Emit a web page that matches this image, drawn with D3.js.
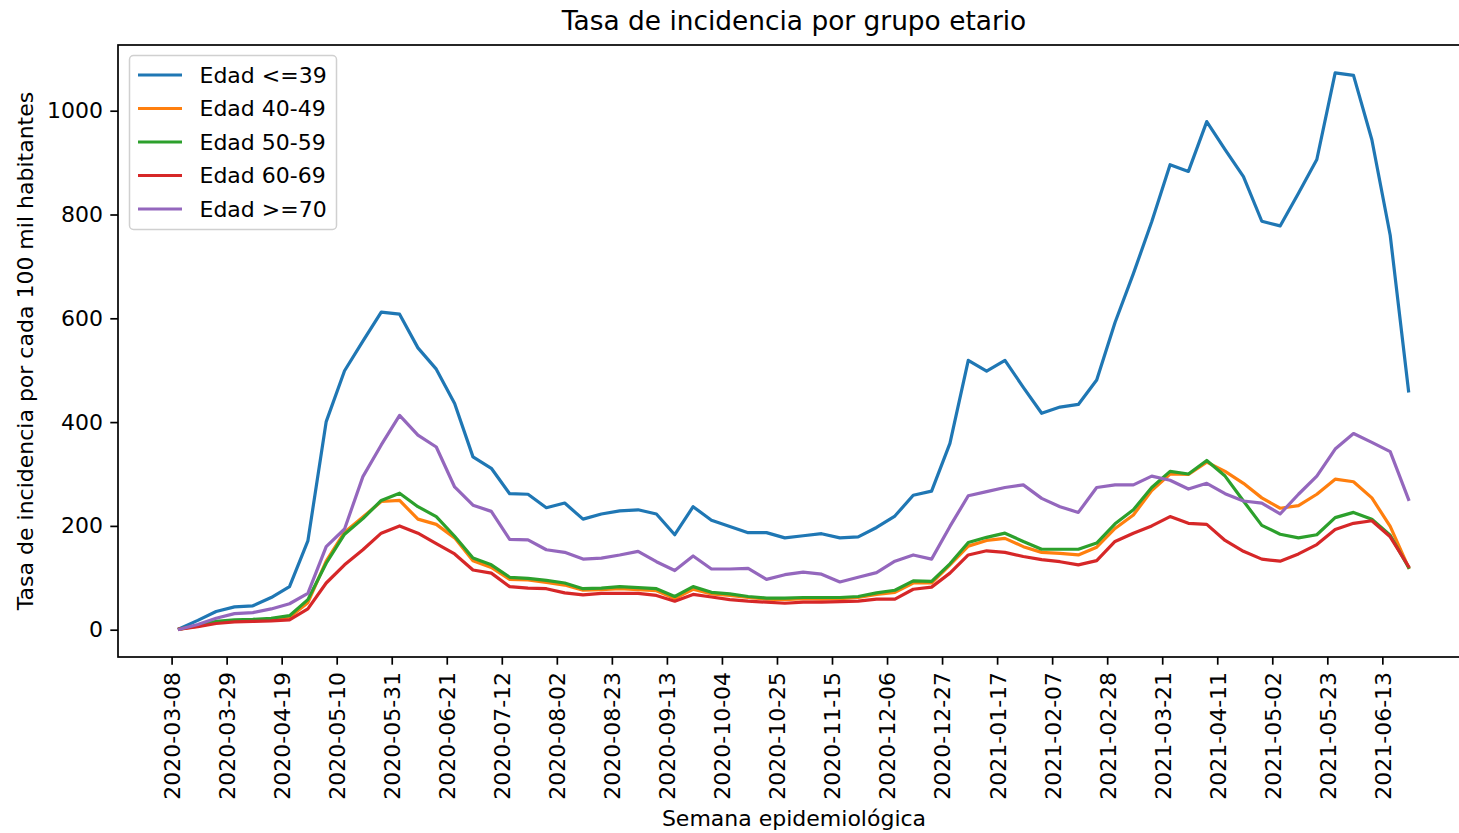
<!DOCTYPE html>
<html>
<head>
<meta charset="utf-8">
<script src="https://cdn.jsdelivr.net/npm/d3@7"></script>
<style>
  body { margin: 0; background: #fff; }
  svg { display: block; font-family: "DejaVu Sans", sans-serif; }
</style>
</head>
<body>
<svg id="chart" width="1459" height="833"></svg>
<script>
// Weekly epidemiological weeks (one value per week in every series)
const weeks = [
  "2020-03-11","2020-03-18","2020-03-25","2020-04-01","2020-04-08","2020-04-15","2020-04-22","2020-04-29",
  "2020-05-06","2020-05-13","2020-05-20","2020-05-27","2020-06-03","2020-06-10","2020-06-17","2020-06-24",
  "2020-07-01","2020-07-08","2020-07-15","2020-07-22","2020-07-29","2020-08-05","2020-08-12","2020-08-19",
  "2020-08-26","2020-09-02","2020-09-09","2020-09-16","2020-09-23","2020-09-30","2020-10-07","2020-10-14",
  "2020-10-21","2020-10-28","2020-11-04","2020-11-11","2020-11-18","2020-11-25","2020-12-02","2020-12-09",
  "2020-12-16","2020-12-23","2020-12-30","2021-01-06","2021-01-13","2021-01-20","2021-01-27","2021-02-03",
  "2021-02-10","2021-02-17","2021-02-24","2021-03-03","2021-03-10","2021-03-17","2021-03-24","2021-03-31",
  "2021-04-07","2021-04-14","2021-04-21","2021-04-28","2021-05-05","2021-05-12","2021-05-19","2021-05-26",
  "2021-06-02","2021-06-09","2021-06-16","2021-06-23"
];

// Incidence rate per 100k inhabitants, by age group
const edadHasta39 = [2, 18, 35, 44, 46, 62, 83, 171, 401, 499, 556, 612, 608, 543, 502, 436,
  333, 311, 262, 261, 235, 244, 213, 223, 229, 231, 223, 183, 237, 211, 199, 187,
  187, 177, 181, 185, 177, 179, 197, 219, 259, 267, 359, 519, 498, 519, 467, 417,
  429, 434, 481, 592, 686, 786, 896, 883, 979, 925, 873, 787, 778, 841, 906, 1073,
  1068, 944, 760, 460];
const edad40a49 = [1, 7, 14, 17, 18, 20, 24, 52, 132, 188, 217, 247, 249, 213, 203, 177,
  133, 120, 97, 96, 91, 86, 76, 77, 79, 77, 75, 60, 78, 69, 66, 62,
  59, 58, 60, 59, 60, 62, 68, 72, 90, 90, 125, 161, 172, 176, 160, 149,
  147, 144, 159, 195, 221, 268, 300, 299, 323, 305, 282, 254, 234, 239, 261, 290,
  285, 254, 199, 120];
const edad50a59 = [1, 8, 16, 19, 20, 22, 27, 58, 128, 184, 214, 249, 263, 237, 218, 180,
  138, 125, 101, 99, 95, 90, 79, 80, 83, 81, 79, 64, 83, 72, 69, 64,
  61, 61, 62, 62, 62, 64, 71, 76, 94, 93, 127, 168, 178, 186, 170, 155,
  155, 155, 167, 204, 231, 274, 305, 300, 326, 296, 248, 201, 184, 177, 183, 216,
  226, 213, 182, 120];
const edad60a69 = [1, 6, 12, 15, 16, 17, 19, 40, 90, 125, 154, 186, 200, 186, 166, 146,
  115, 109, 83, 80, 79, 71, 67, 70, 70, 70, 66, 55, 68, 63, 58, 55,
  53, 51, 53, 53, 54, 55, 59, 59, 78, 82, 109, 144, 152, 149, 141, 135,
  131, 125, 133, 170, 186, 200, 218, 205, 203, 172, 151, 136, 132, 146, 164, 193,
  205, 210, 179, 122];
const edadDesde70 = [1, 10, 22, 31, 33, 40, 50, 70, 160, 194, 295, 356, 413, 375, 352, 275,
  240, 228, 174, 173, 154, 149, 136, 138, 144, 151, 131, 114, 142, 117, 117, 118,
  97, 106, 111, 107, 92, 101, 110, 132, 144, 136, 199, 258, 266, 274, 279, 253,
  237, 226, 274, 279, 279, 296, 288, 271, 282, 262, 248, 244, 223, 261, 296, 348,
  378, 361, 343, 251];

const seriesNames = ["Edad <=39", "Edad 40-49", "Edad 50-59", "Edad 60-69", "Edad >=70"];
const seriesValues = [edadHasta39, edad40a49, edad50a59, edad60a69, edadDesde70];
const seriesColors = ["#1f77b4", "#ff7f0e", "#2ca02c", "#d62728", "#9467bd"];

// Tick labels on both axes
const xTickLabels = [
  "2020-03-08","2020-03-29","2020-04-19","2020-05-10","2020-05-31","2020-06-21","2020-07-12",
  "2020-08-02","2020-08-23","2020-09-13","2020-10-04","2020-10-25","2020-11-15","2020-12-06",
  "2020-12-27","2021-01-17","2021-02-07","2021-02-28","2021-03-21","2021-04-11","2021-05-02",
  "2021-05-23","2021-06-13"
];
const yTicks = [0, 200, 400, 600, 800, 1000];

const titleText = "Tasa de incidencia por grupo etario";
const xLabelText = "Semana epidemiológica";
const yLabelText = "Tasa de incidencia por cada 100 mil habitantes";

// ---- layout ----
const plot = { left: 118, top: 45, right: 1470, bottom: 657 };
const fontSize = 22;
const tickLen = 7.7;
const tickPad = 7.2;

const parse = d3.utcParse("%Y-%m-%d");
const dates = weeks.map(parse);

const svg = d3.select("#chart");
svg.append("rect").attr("width", 1459).attr("height", 833).attr("fill", "#fff");

// Domains padded by 5% of the data range on each side
const xExt = d3.extent(dates);
const xPad = (xExt[1] - xExt[0]) * 0.05;
const x = d3.scaleUtc()
  .domain([new Date(+xExt[0] - xPad), new Date(+xExt[1] + xPad)])
  .range([plot.left, plot.right]);

const allVals = seriesValues.flat();
const yMin = d3.min(allVals), yMax = d3.max(allVals);
const yPad = (yMax - yMin) * 0.05;
const y = d3.scaleLinear()
  .domain([yMin - yPad, yMax + yPad])
  .range([plot.bottom, plot.top]);

// clip lines to plot area
svg.append("defs").append("clipPath").attr("id", "plotclip")
  .append("rect")
  .attr("x", plot.left).attr("y", plot.top)
  .attr("width", plot.right - plot.left).attr("height", plot.bottom - plot.top);

// ---- series lines ----
const line = d3.line()
  .x((d, i) => x(dates[i]))
  .y(d => y(d));

const lines = svg.append("g").attr("clip-path", "url(#plotclip)");
seriesValues.forEach((vals, k) => {
  lines.append("path")
    .datum(vals)
    .attr("d", line)
    .attr("fill", "none")
    .attr("stroke", seriesColors[k])
    .attr("stroke-width", 3.2)
    .attr("stroke-linejoin", "round")
    .attr("stroke-linecap", "square");
});

// ---- axes ----
const xAxis = d3.axisBottom(x)
  .tickValues(xTickLabels.map(parse))
  .tickFormat((d, i) => xTickLabels[i])
  .tickSize(tickLen)
  .tickPadding(tickPad);

const gx = svg.append("g")
  .attr("transform", `translate(0,${plot.bottom})`)
  .call(xAxis);
gx.select(".domain").remove();
gx.selectAll(".tick line").attr("stroke", "#000").attr("stroke-width", 1.7);
gx.selectAll(".tick text")
  .attr("fill", "#000")
  .style("font-size", fontSize + "px")
  .style("font-family", "DejaVu Sans, sans-serif")
  .attr("text-anchor", "end")
  .attr("transform", "rotate(-90)")
  .attr("x", -(tickLen + tickPad))
  .attr("y", 0)
  .attr("dy", "0.36em");

const yAxis = d3.axisLeft(y)
  .tickValues(yTicks)
  .tickFormat(d3.format("d"))
  .tickSize(tickLen)
  .tickPadding(tickPad);

const gy = svg.append("g")
  .attr("transform", `translate(${plot.left},0)`)
  .call(yAxis);
gy.select(".domain").remove();
gy.selectAll(".tick line").attr("stroke", "#000").attr("stroke-width", 1.7);
gy.selectAll(".tick text")
  .attr("fill", "#000")
  .style("font-size", fontSize + "px")
  .style("font-family", "DejaVu Sans, sans-serif");

// plot frame
svg.append("rect")
  .attr("x", plot.left).attr("y", plot.top)
  .attr("width", plot.right - plot.left).attr("height", plot.bottom - plot.top)
  .attr("fill", "none").attr("stroke", "#000").attr("stroke-width", 1.7);

// ---- titles ----
const cx = (plot.left + plot.right) / 2;
svg.append("text")
  .attr("x", cx).attr("y", 30)
  .attr("text-anchor", "middle")
  .style("font-size", (fontSize * 1.2) + "px")
  .attr("fill", "#000")
  .text(titleText);

svg.append("text")
  .attr("x", cx).attr("y", 826)
  .attr("text-anchor", "middle")
  .style("font-size", fontSize + "px")
  .attr("fill", "#000")
  .text(xLabelText);

svg.append("text")
  .attr("transform", `translate(25,${(plot.top + plot.bottom) / 2}) rotate(-90)`)
  .attr("text-anchor", "middle")
  .attr("dy", "0.35em")
  .style("font-size", fontSize + "px")
  .attr("fill", "#000")
  .text(yLabelText);

// ---- legend ----
const lg = { x: 129.5, y: 55.5, w: 207, h: 174, row: 33.5, firstY: 75 };
const legend = svg.append("g");
legend.append("rect")
  .attr("x", lg.x).attr("y", lg.y)
  .attr("width", lg.w).attr("height", lg.h)
  .attr("rx", 4).attr("ry", 4)
  .attr("fill", "#fff").attr("fill-opacity", 0.8)
  .attr("stroke", "#d0d0d0").attr("stroke-width", 1.5);

seriesNames.forEach((name, k) => {
  const yy = lg.firstY + k * lg.row;
  legend.append("line")
    .attr("x1", 138).attr("x2", 182)
    .attr("y1", yy).attr("y2", yy)
    .attr("stroke", seriesColors[k]).attr("stroke-width", 3.2);
  legend.append("text")
    .attr("x", 199.5).attr("y", yy)
    .attr("dy", "0.36em")
    .style("font-size", fontSize + "px")
    .attr("fill", "#000")
    .text(name);
});
</script>
</body>
</html>
